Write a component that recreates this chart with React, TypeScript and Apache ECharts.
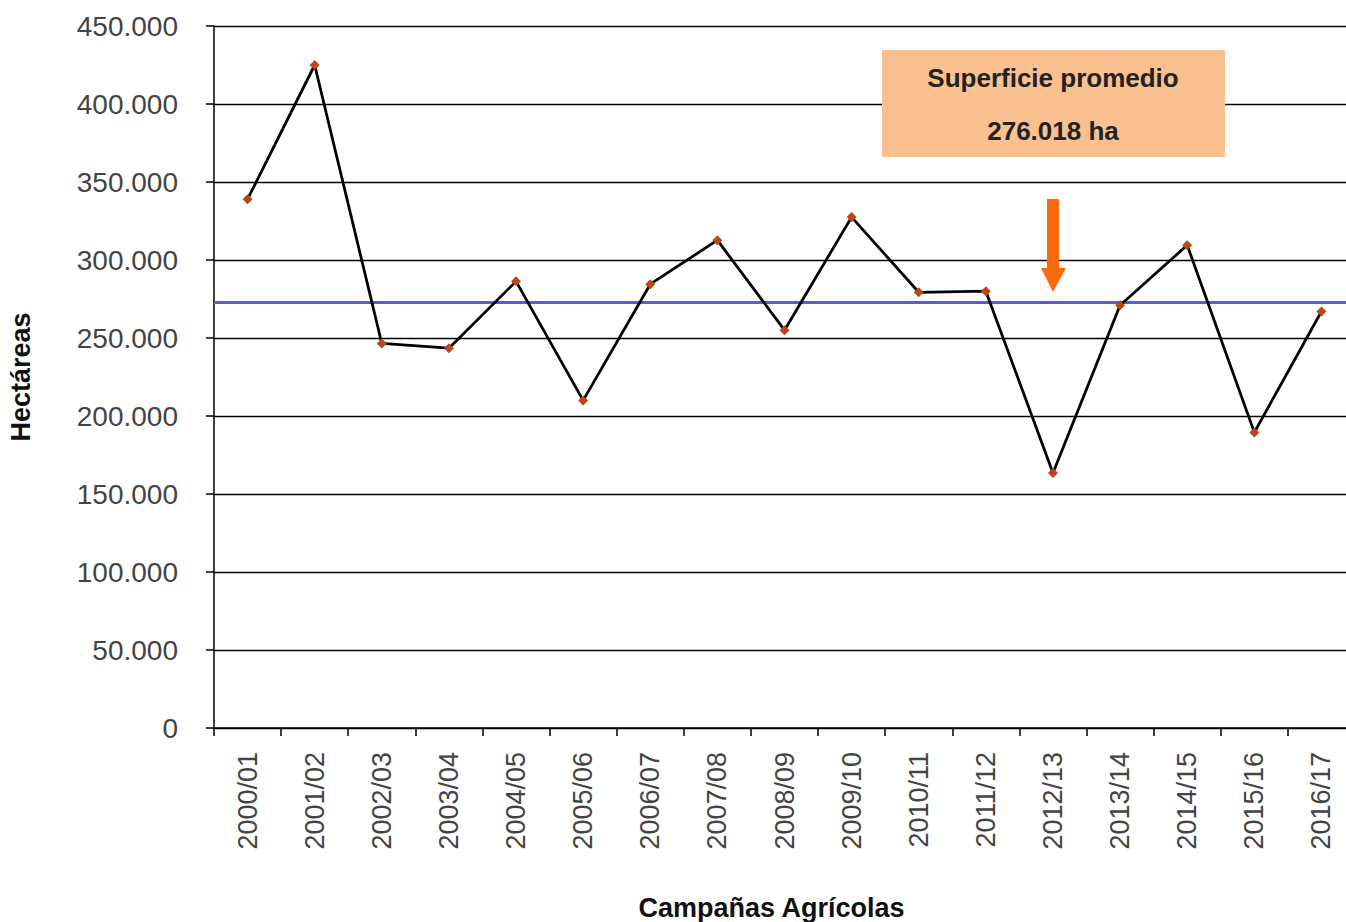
import React, { useEffect, useRef } from "react";
import * as echarts from "echarts";

const campaigns = [
  "2000/01", "2001/02", "2002/03", "2003/04", "2004/05", "2005/06",
  "2006/07", "2007/08", "2008/09", "2009/10", "2010/11", "2011/12",
  "2012/13", "2013/14", "2014/15", "2015/16", "2016/17",
];
const hectares = [
  339000, 425000, 246500, 243500, 286300, 210000,
  284500, 312700, 255000, 327500, 279300, 280000,
  163500, 271000, 309500, 189500, 267000,
];
const averageLineValue = 272800;
const averageLabel = ["Superficie promedio", "276.018 ha"];
const yTicks = { min: 0, max: 450000, interval: 50000 };

const fmt = (v: number) => String(v).replace(/\B(?=(\d{3})+(?!\d))/g, ".");

export default function App() {
  const ref = useRef<HTMLDivElement>(null);
  useEffect(() => {
    if (!ref.current) return;
    const chart = echarts.init(ref.current, undefined, { renderer: "svg" });
    const font = "'Liberation Sans', Arial, sans-serif";
    chart.setOption({
      animation: false,
      backgroundColor: "#ffffff",
      grid: { left: 214, top: 26, width: 1141, height: 702, containLabel: false, outerBoundsMode: "none" },
      xAxis: {
        type: "category",
        data: campaigns,
        boundaryGap: true,
        name: "Campañas Agrícolas",
        nameLocation: "middle",
        nameGap: 166,
        nameTextStyle: { fontFamily: font, fontSize: 27, fontWeight: "bold", color: "#111", padding: [0, 26, 0, 0] },
        axisLine: { show: true, lineStyle: { color: "#000", width: 1.5 } },
        axisTick: { show: true, length: 8, lineStyle: { color: "#000", width: 1.5 } },
        axisLabel: { rotate: 90, fontFamily: font, fontSize: 27, color: "#444", margin: 24, interval: 0 },
        splitLine: { show: false },
      },
      yAxis: {
        type: "value",
        min: yTicks.min,
        max: yTicks.max,
        interval: yTicks.interval,
        name: "Hectáreas",
        nameLocation: "middle",
        nameGap: 180,
        nameTextStyle: { fontFamily: font, fontSize: 27, fontWeight: "bold", color: "#111" },
        axisLine: { show: true, lineStyle: { color: "#000", width: 1.5 } },
        axisTick: { show: true, length: 8, lineStyle: { color: "#000", width: 1.5 } },
        axisLabel: { fontFamily: font, fontSize: 28, color: "#444", margin: 36, formatter: (v: number) => fmt(v) },
        splitLine: { show: true, lineStyle: { color: "#000", width: 1.3 } },
      },
      series: [
        {
          type: "line",
          data: hectares,
          symbol: "diamond",
          symbolSize: 10,
          showSymbol: true,
          lineStyle: { color: "#000", width: 2.8 },
          itemStyle: { color: "#B9471A" },
          z: 3,
          markLine: {
            silent: true,
            symbol: "none",
            label: { show: false },
            lineStyle: { color: "#5A5AE0", width: 3, type: "solid" },
            data: [{ yAxis: averageLineValue }],
            z: 2,
          },
        },
      ],
      graphic: [
        {
          type: "rect",
          shape: { x: 882, y: 50, width: 343, height: 107 },
          style: { fill: "#FAC090" },
          z: 10,
        },
        {
          type: "text",
          x: 1053,
          y: 78,
          style: {
            text: averageLabel[0],
            fontFamily: font,
            fontSize: 26,
            fontWeight: "bold",
            fill: "#222",
            align: "center",
            verticalAlign: "middle",
          },
          z: 11,
        },
        {
          type: "text",
          x: 1053,
          y: 131,
          style: {
            text: averageLabel[1],
            fontFamily: font,
            fontSize: 26,
            fontWeight: "bold",
            fill: "#222",
            align: "center",
            verticalAlign: "middle",
          },
          z: 11,
        },
        {
          type: "polygon",
          shape: {
            points: [
              [1047, 199], [1059, 199], [1059, 268], [1066, 268],
              [1053, 292], [1041, 268], [1047, 268],
            ],
          },
          style: { fill: "#FA6A0A" },
          z: 10,
        },
      ],
    });
    return () => chart.dispose();
  }, []);
  return (
    <div
      ref={ref}
      style={{ position: "absolute", left: 0, top: 0, width: 1346, height: 922 }}
    />
  );
}
